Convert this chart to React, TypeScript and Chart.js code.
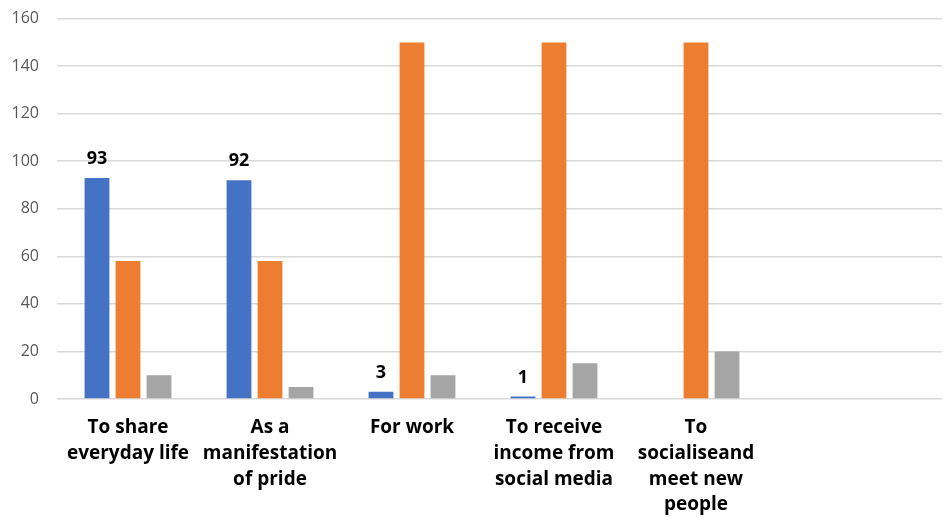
import React, { useEffect, useRef } from "react";
import { Chart, registerables } from "chart.js";

Chart.register(...registerables);

const categories: (string | string[])[] = [
  ["To share", "everyday life"],
  ["As a", "manifestation", "of pride"],
  "For work",
  ["To receive", "income from", "social media"],
  ["To", "socialiseand", "meet new", "people"],
  "",
  "",
];
const seriesBlue: (number | null)[] = [93, 92, 3, 1, null, null, null];
const seriesOrange: (number | null)[] = [58, 58, 150, 150, 150, null, null];
const seriesGray: (number | null)[] = [10, 5, 10, 15, 20, null, null];
const yTicks = { min: 0, max: 160, step: 20 };

const labelPlugin = {
  id: "blueLabels",
  afterDatasetsDraw(chart: any) {
    const ctx = chart.ctx;
    const meta = chart.getDatasetMeta(0);
    ctx.save();
    ctx.font = "bold 18px 'Open Sans'";
    ctx.fillStyle = "#000000";
    ctx.textAlign = "center";
    ctx.textBaseline = "middle";
    meta.data.forEach((el: any, i: number) => {
      const v = seriesBlue[i];
      if (v === null || v === undefined) return;
      ctx.fillText(String(v), el.x, el.y - 19);
    });
    ctx.restore();
  },
};

export default function App() {
  const ref = useRef<HTMLCanvasElement>(null);
  useEffect(() => {
    if (!ref.current) return;
    const common = { categoryPercentage: 0.655, barPercentage: 0.8 };
    const chart = new Chart(ref.current, {
      type: "bar",
      data: {
        labels: categories,
        datasets: [
          { label: "A", data: seriesBlue, backgroundColor: "#4472C4", ...common },
          { label: "B", data: seriesOrange, backgroundColor: "#ED7D31", ...common },
          { label: "C", data: seriesGray, backgroundColor: "#A5A5A5", ...common },
        ],
      },
      options: {
        animation: false,
        responsive: true,
        maintainAspectRatio: false,
        layout: { padding: { top: 0, left: 0, right: 0, bottom: 0 } },
        plugins: { legend: { display: false }, tooltip: { enabled: false } },
        scales: {
          x: {
            grid: { display: false },
            border: { display: false },
            ticks: {
              color: "#000000",
              font: { family: "'Open Sans'", size: 19, weight: "bold", lineHeight: 1.35 },
              padding: 8,
              maxRotation: 0,
              autoSkip: false,
            },
            afterFit: (s: any) => {
              s.height = 118;
            },
          },
          y: {
            min: yTicks.min,
            max: yTicks.max,
            ticks: {
              stepSize: yTicks.step,
              color: "#595959",
              font: { family: "'Open Sans'", size: 16 },
              padding: 18,
            },
            grid: { color: "#d9d9d9", lineWidth: 1.5, drawTicks: false },
            border: { display: false },
            afterFit: (s: any) => {
              s.width = 49;
            },
          },
        },
      },
      plugins: [labelPlugin],
    });
    return () => chart.destroy();
  }, []);
  return (
    <div style={{ width: 942, height: 509, overflow: "hidden", background: "#fff" }}>
      <div style={{ position: "relative", width: 1043, height: 526, marginTop: -17 }}>
        <canvas ref={ref} />
      </div>
    </div>
  );
}
